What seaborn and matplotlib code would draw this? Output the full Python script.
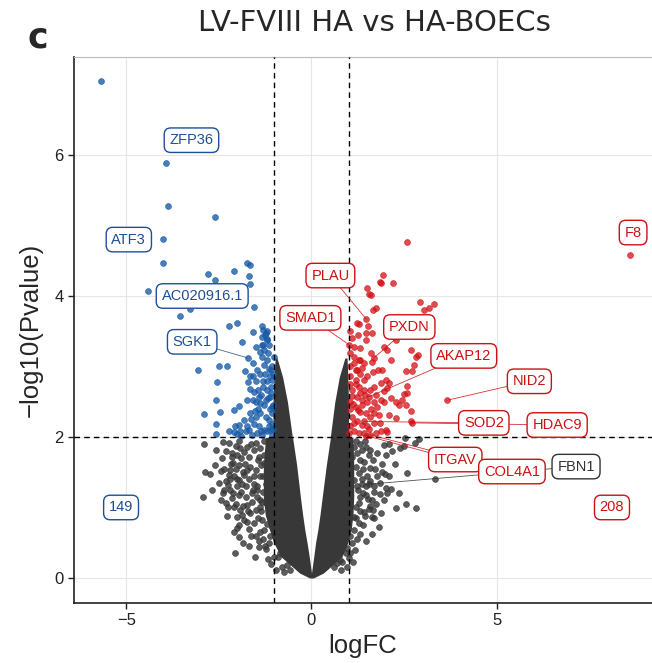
import numpy as np
import pandas as pd
import matplotlib
matplotlib.use("Agg")
import matplotlib.pyplot as plt
import seaborn as sns

# ---------------- data ----------------
down_logfc = [-5.68, -3.92, -3.87, -2.61, -4.01, -4.02, -1.73, -1.67, -2.79, -2.08, -2.61, -1.70, -1.66,
              -4.41, -1.55, -3.29, -3.54, -2.23, -2.01, -1.59, -1.87, -1.34, -1.30, -1.20, -1.34, -1.19,
              -1.34, -1.49, -1.71, -3.05, -2.51, -2.28, -1.79, -1.59, -2.56, -1.71, -2.59, -2.47, -2.91,
              -2.57, -2.57, -2.10, -1.95, -2.07, -1.96, -2.23, -2.10, -2.01, -1.91,
              -1.65, -1.56, -1.45, -1.31, -1.20, -1.59, -1.51, -1.38, -1.23, -1.11, -1.65, -1.51, -1.38,
              -1.24, -1.15, -1.06, -1.56, -1.42, -1.29, -1.15, -1.06, -1.69, -1.60, -1.47, -1.33, -1.20,
              -1.06, -1.78, -1.92,
              -1.22, -1.20, -1.32, -1.38, -1.27, -1.17, -1.33, -1.20, -1.29, -1.16, -1.25, -1.13, -1.06,
              -1.20, -1.06, -1.02, -1.65, -1.51, -1.42, -1.74, -1.83, -1.74, -1.06, -1.09,
              -1.03, -1.08, -1.04, -1.12, -1.03, -1.10, -1.18, -1.28, -1.35, -1.45, -1.52, -1.40, -1.30,
              -1.15, -1.25, -1.62, -1.37, -1.12, -1.48, -1.58]
down_nlp = [7.05, 5.89, 5.27, 5.12, 4.81, 4.47, 4.47, 4.44, 4.31, 4.36, 4.23, 4.29, 4.17,
            4.07, 3.84, 3.82, 3.71, 3.58, 3.62, 3.49, 3.35, 3.58, 3.52, 3.50, 3.42, 3.39,
            3.30, 3.27, 3.12, 2.95, 3.01, 3.01, 2.93, 2.87, 2.78, 2.78, 2.53, 2.36, 2.32,
            2.18, 2.04, 2.38, 2.44, 2.16, 2.17, 2.08, 2.07, 2.04, 2.02,
            2.68, 2.64, 2.67, 2.71, 2.67, 2.53, 2.50, 2.48, 2.53, 2.57, 2.34, 2.29, 2.34,
            2.29, 2.24, 2.43, 2.19, 2.15, 2.10, 2.15, 2.19, 2.10, 2.03, 2.05, 2.03, 2.08,
            2.03, 2.08, 2.08,
            3.48, 3.38, 3.31, 3.21, 3.23, 3.19, 3.14, 3.09, 3.02, 2.97, 2.90, 2.86, 2.81,
            2.79, 3.00, 3.14, 2.86, 2.79, 2.57, 2.53, 2.24, 2.15, 2.34, 2.71,
            2.45, 2.62, 2.90, 2.40, 2.12, 2.95, 2.55, 2.45, 2.60, 2.40, 2.37, 2.90, 2.80,
            3.30, 3.45, 2.25, 2.08, 2.10, 2.95, 3.05]

up_logfc = [8.60, 2.59, 1.93, 1.85, 1.88, 2.20, 1.49, 1.55, 1.60, 2.92, 3.30, 3.04, 3.17, 1.75, 1.67,
            1.48, 1.23, 1.29, 1.52, 1.47, 1.62, 1.47, 1.01, 2.27, 1.96, 2.03, 1.60, 2.68, 1.68, 1.64,
            2.14, 2.81, 2.88, 2.77, 2.56, 2.72, 1.32, 1.41, 1.14, 1.19, 1.91, 1.87, 2.00, 2.09, 2.05,
            2.57, 2.50, 2.59, 2.45, 2.56, 2.27, 2.36, 2.68, 1.97, 1.87, 1.78, 2.09, 1.82, 1.68, 2.68,
            2.72, 2.27, 1.84, 2.00, 1.87, 1.73, 2.05, 3.65, 1.41, 1.46, 1.58, 1.55,
            1.05, 1.14, 1.23, 1.32, 1.05, 1.19, 1.28, 1.41, 1.10, 1.23, 1.37, 1.50, 1.05, 1.19, 1.32,
            1.46, 1.59, 1.10, 1.23, 1.37, 1.50, 1.05, 1.14, 1.28, 1.41, 1.55, 1.68, 1.59, 1.50, 1.68,
            1.41, 1.28, 1.32, 1.14,
            1.03, 1.04, 1.03, 1.08, 1.02, 1.12, 1.16, 1.25, 1.35, 1.45, 1.30, 1.20, 1.36, 1.10, 1.25,
            1.03, 1.60, 1.75, 1.70, 1.80, 1.65, 1.95, 2.15]
up_nlp = [4.58, 4.77, 4.30, 4.20, 4.18, 4.19, 4.11, 4.03, 4.01, 3.91, 3.89, 3.80, 3.83, 3.83, 3.80,
          3.67, 3.61, 3.60, 3.57, 3.47, 3.47, 3.38, 3.31, 3.38, 3.28, 3.23, 3.19, 3.24, 3.12, 3.07,
          3.09, 3.14, 3.17, 3.02, 2.94, 2.93, 3.09, 3.05, 3.14, 2.95, 2.95, 2.76, 2.81, 2.76, 2.69,
          2.73, 2.61, 2.62, 2.53, 2.45, 2.50, 2.45, 2.37, 2.49, 2.53, 2.43, 2.31, 2.31, 2.34, 2.22,
          2.20, 2.27, 2.20, 2.10, 2.08, 2.05, 2.07, 2.52, 2.22, 2.02, 2.03, 2.57,
          3.19, 3.05, 2.95, 2.90, 2.86, 2.81, 2.71, 2.67, 2.67, 2.57, 2.52, 2.50, 2.50, 2.43, 2.36,
          2.34, 2.29, 2.29, 2.22, 2.17, 2.15, 2.15, 2.08, 2.05, 2.05, 2.12, 2.50, 2.67, 2.86, 2.71,
          2.81, 3.09, 3.26, 3.28,
          2.40, 2.75, 3.00, 2.58, 2.05, 2.47, 2.20, 2.38, 2.45, 2.60, 2.62, 2.75, 2.98, 3.40, 3.45,
          3.50, 2.40, 2.60, 2.20, 2.95, 2.92, 2.65, 2.55]

ns_logfc = [-2.91, -2.58, -2.42, -2.23, -2.05, -1.92, -1.74, -2.14, -2.01, -1.83, -2.43, -2.13, -1.96,
            -2.87, -2.75, -2.21, -2.23, -2.10, -1.96, -1.83, -1.74, -1.65, -2.32, -2.26, -2.37, -2.19,
            -2.01, -1.87, -2.94, -2.44, -2.30, -2.14, -1.96, -1.78, -1.60, -1.47, -2.10, -1.92, -1.74,
            -2.01, -1.83, -1.65, -1.51, -1.38, -1.24, -2.01, -1.68, -1.50, -1.42, -1.22, -1.15, -1.11,
            -1.29, -2.06, -1.17, -0.91, -0.84, -0.66, -0.57, -0.79,
            -1.56, -1.42, -1.29, -1.51, -1.38, -1.24, -1.47, -1.33, -1.20, -1.56, -1.15, -1.33, -1.06,
            -1.11, -1.06, -1.20,
            -2.30, -2.18, -2.05, -1.90, -1.80, -1.70, -1.62, -1.50, -1.40, -1.35, -1.45, -1.55, -1.68,
            -1.78, -1.90, -2.00, -2.12, -2.25, -2.05, -1.85, -1.72, -1.60, -1.48, -1.40, -1.30, -1.36,
            -1.45, -1.55, -1.75, -1.88, -1.95, -1.62, -1.38, -1.30, -1.25, -1.42, -1.85, -1.70, -2.20,
            -2.35, -2.50, -2.40, -2.60, -2.68, -2.15, -1.95, -2.40, -1.28, -1.32, -1.27, -1.58, -1.85,
            -2.28, -2.10, -1.95, -1.52, -1.00, -1.10, -0.95, -0.75,
            2.52, 2.79, 2.91, 2.09, 2.50, 1.77, 2.01, 1.59, 1.46, 1.91, 1.89, 1.98, 1.59, 1.41, 1.50,
            1.37, 2.59, 3.32, 2.00, 2.15, 1.68, 1.84, 1.95, 1.64, 1.46, 2.27, 2.55, 2.83, 1.59, 1.67,
            1.41, 1.28, 1.62, 1.81, 1.28, 1.14, 1.32, 1.05, 1.10, 0.96, 0.92, 0.78, 0.69, 0.83, 0.60,
            1.01, 0.87, 1.14, 1.23, 1.32, 1.19, 1.28, 1.14, 1.23, 1.32, 1.19, 1.14, 1.37, 1.10, 1.55,
            1.20, 1.30, 1.45, 1.55, 1.65, 1.72, 1.40, 1.35, 1.48, 1.58, 1.70, 1.78, 1.85, 1.52, 1.40,
            1.30, 1.45, 1.55, 1.75, 1.88, 1.38, 1.22, 1.18, 1.05, 1.12, 0.95, 0.80, 1.62, 1.48, 2.10,
            2.25, 2.40, 2.18, 1.95, 1.25, 1.20, 1.70, 2.05, 2.35]
ns_nlp = [1.90, 1.82, 1.70, 1.91, 1.87, 1.84, 1.86, 1.77, 1.74, 1.78, 1.52, 1.63, 1.60,
          1.51, 1.47, 1.53, 1.46, 1.44, 1.39, 1.46, 1.53, 1.58, 1.37, 1.32, 1.25, 1.25,
          1.30, 1.34, 1.15, 1.11, 1.06, 1.13, 1.18, 1.15, 1.20, 1.25, 1.01, 0.96, 1.04,
          0.87, 0.82, 0.92, 0.96, 1.01, 1.06, 0.71, 0.70, 0.59, 0.44, 0.41, 0.50, 0.59,
          0.68, 0.35, 0.27, 0.30, 0.35, 0.18, 0.11, 0.16,
          1.82, 1.72, 1.63, 1.53, 1.44, 1.34, 1.15, 1.08, 1.18, 1.34, 0.92, 0.82, 1.39,
          1.72, 0.73, 0.77,
          1.80, 1.62, 1.55, 1.70, 1.62, 1.72, 1.90, 1.92, 1.85, 1.60, 1.68, 1.45, 1.40,
          1.30, 1.22, 1.40, 1.20, 1.00, 1.05, 1.02, 0.95, 1.08, 1.30, 1.10, 1.22, 0.95,
          0.85, 0.78, 0.80, 0.90, 0.75, 0.60, 0.65, 0.55, 0.45, 0.52, 0.50, 0.45, 1.40,
          1.55, 1.35, 1.20, 1.60, 1.25, 1.72, 1.95, 1.93, 1.75, 1.45, 1.95, 1.25, 1.50,
          0.88, 0.65, 0.58, 0.30, 0.30, 0.20, 0.12, 0.08,
          1.99, 1.92, 1.97, 1.90, 1.87, 1.77, 1.75, 1.82, 1.86, 1.61, 1.51, 1.48, 1.56, 1.65, 1.44,
          1.34, 1.49, 1.41, 1.27, 1.26, 1.22, 1.19, 1.11, 1.11, 1.18, 0.99, 1.05, 0.99, 1.02, 0.96,
          0.94, 1.06, 0.86, 0.72, 0.78, 0.68, 0.63, 0.59, 0.49, 0.42, 0.35, 0.26, 0.21, 0.23, 0.16,
          0.28, 0.54, 1.86, 1.77, 1.67, 1.58, 1.49, 1.39, 1.30, 1.15, 1.01, 0.87, 1.82, 1.72, 1.33,
          1.95, 1.90, 1.95, 1.75, 1.68, 1.55, 1.55, 1.40, 1.30, 1.38, 1.30, 1.45, 1.35, 1.12, 1.20,
          0.95, 0.88, 0.98, 1.05, 0.92, 0.75, 0.55, 0.40, 0.35, 0.22, 0.15, 0.12, 0.62, 0.52, 1.45,
          1.62, 1.85, 1.80, 1.88, 1.25, 0.85, 0.85, 1.20, 1.20]

# envelope of the dense, non-significant core (too many overlapping genes to read one by one)
core_nlp = [0.0, 0.07, 0.30, 0.50, 0.68, 0.90, 1.15, 1.60, 1.99, 2.01, 2.50, 2.85, 3.12]
core_left_outer = [-0.05, -0.32, -0.82, -1.02, -1.13, -1.25, -1.30, -1.30, -1.24, -1.04, -1.04, -1.01, -0.98]
core_left_inner = [0.0, 0.0, -0.06, -0.12, -0.18, -0.24, -0.30, -0.40, -0.51, -0.52, -0.65, -0.78, -0.93]
core_right_inner = [0.0, 0.0, 0.06, 0.11, 0.17, 0.23, 0.29, 0.40, 0.51, 0.51, 0.63, 0.75, 0.90]
core_right_outer = [0.05, 0.32, 0.82, 0.98, 1.07, 1.12, 1.14, 1.14, 1.12, 1.00, 1.00, 0.98, 0.96]

gene_names = ["ZFP36", "ATF3", "AC020916.1", "SGK1", "PLAU", "SMAD1", "PXDN", "AKAP12",
              "NID2", "SOD2", "HDAC9", "ITGAV", "COL4A1", "FBN1", "F8"]
gene_logfc = [-3.92, -4.01, -3.29, -1.71, 1.48, 1.01, 1.68, 1.55, 3.65, 1.41, 2.72, 1.46, 1.58, 1.55, 8.60]
gene_nlp = [5.89, 4.81, 3.82, 3.12, 3.67, 3.31, 3.12, 2.57, 2.52, 2.22, 2.20, 2.02, 2.03, 1.33, 4.58]
gene_group = ["Down", "Down", "Down", "Down", "Up", "Up", "Up", "Up", "Up", "Up", "Up", "Up", "Up", "NS", "Up"]

count_labels = ["149", "208"]
count_group = ["Down", "Up"]

fc_cut = 1
nlp_cut = 2

# ---------------- layout (label placement) ----------------
label_xy = [(-3.24, 6.21), (-4.93, 4.80), (-2.95, 4.00), (-3.22, 3.35), (0.51, 4.29), (-0.03, 3.69),
            (2.64, 3.56), (4.11, 3.15), (5.88, 2.79), (4.65, 2.20), (6.63, 2.17), (3.88, 1.68),
            (5.41, 1.51), (7.14, 1.58), (8.68, 4.90)]
no_segment = {"ZFP36", "ATF3", "AC020916.1", "F8"}
count_xy = [(-5.14, 1.0), (8.11, 1.0)]

colors = {"Down": "#175aa8", "Up": "#d41016", "NS": "#383838"}
point_alpha = {"NS": 0.82, "Down": 0.78, "Up": 0.75}
text_colors = {"Down": "#1d4f96", "Up": "#cc1111", "NS": "#333333"}

# ---------------- figure ----------------
sns.set_style("white")
plt.rcParams["font.family"] = ["Liberation Sans", "DejaVu Sans"]

fig = plt.figure(figsize=(6.52, 6.63), dpi=100)
ax = fig.add_axes([0.1135, 0.0905, 0.8865, 0.8235])

df = pd.concat([
    pd.DataFrame({"logFC": ns_logfc, "nlp": ns_nlp, "group": "NS"}),
    pd.DataFrame({"logFC": down_logfc, "nlp": down_nlp, "group": "Down"}),
    pd.DataFrame({"logFC": up_logfc, "nlp": up_nlp, "group": "Up"}),
], ignore_index=True)

ax.set_xlim(-6.41, 9.19)
ax.set_ylim(-0.355, 7.39)
ax.set_xticks([-5, 0, 5])
ax.set_yticks([0, 2, 4, 6])
ax.grid(True, color="#e6e6e6", linewidth=0.8)
ax.set_axisbelow(True)

# dense core
ax.fill_betweenx(core_nlp, core_left_outer, core_left_inner, color=colors["NS"], lw=0, zorder=2)
ax.fill_betweenx(core_nlp, core_right_inner, core_right_outer, color=colors["NS"], lw=0, zorder=2)

for grp in ["NS", "Down", "Up"]:
    n0 = len(ax.collections)
    sns.scatterplot(data=df[df["group"] == grp], x="logFC", y="nlp", color=colors[grp],
                    s=18, alpha=point_alpha[grp], linewidth=0.5, legend=False, ax=ax, zorder=3)
    for coll in ax.collections[n0:]:
        coll.set_edgecolors(coll.get_facecolors())

ax.axvline(-fc_cut, color="black", lw=1.0, ls=(0, (4, 3)), zorder=4)
ax.axvline(fc_cut, color="black", lw=1.0, ls=(0, (4, 3)), zorder=4)
ax.axhline(nlp_cut, color="black", lw=1.0, ls=(0, (4, 3)), zorder=4)

for name, gx, gy, grp, (tx, ty) in zip(gene_names, gene_logfc, gene_nlp, gene_group, label_xy):
    c = text_colors[grp]
    if name not in no_segment:
        ax.plot([tx, gx], [ty, gy], color=c, lw=0.6, alpha=0.85, zorder=5)
    ax.text(tx, ty, name, color=c, fontsize=10.5, ha="center", va="center", zorder=6,
            bbox=dict(boxstyle="round,pad=0.36,rounding_size=0.45", fc="white", ec=c, lw=1.0))

for lab, grp, (tx, ty) in zip(count_labels, count_group, count_xy):
    c = text_colors[grp]
    ax.text(tx, ty, lab, color=c, fontsize=10.5, ha="center", va="center", zorder=6,
            bbox=dict(boxstyle="round,pad=0.36,rounding_size=0.45", fc="white", ec=c, lw=1.0))

for s in ["left", "bottom"]:
    ax.spines[s].set_color("#222222")
    ax.spines[s].set_linewidth(1.2)
ax.spines["right"].set_visible(False)
ax.spines["top"].set_color("#bbbbbb")
ax.spines["top"].set_linewidth(0.8)
ax.tick_params(axis="both", direction="out", length=4, width=1, color="#222222",
               labelsize=12, labelcolor="#222222", left=True, bottom=True)
ax.set_xticklabels(["\u22125", "0", "5"])
ax.set_yticklabels(["0", "2", "4", "6"])

ax.set_xlabel("logFC", fontsize=18.5, labelpad=4)
ax.set_ylabel("\u2212log10(Pvalue)", fontsize=18.5, labelpad=8)

fig.text(0.575, 0.966, "LV-FVIII HA vs HA-BOECs", ha="center", va="center",
         fontsize=21, family="DejaVu Sans")
fig.text(0.058, 0.944, "c", ha="center", va="center", fontsize=25, fontweight="bold",
         family="DejaVu Sans")

fig.savefig("out.png", dpi=100)
